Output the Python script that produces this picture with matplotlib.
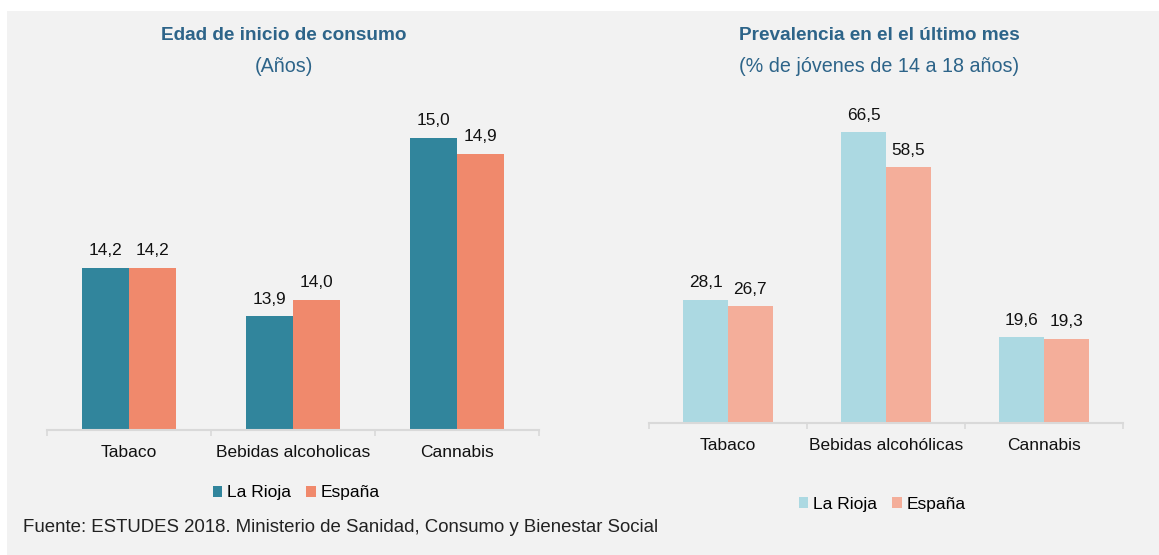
import matplotlib.pyplot as plt
from matplotlib.patches import Rectangle, Patch
import numpy as np

plt.rcParams['font.family'] = ['Liberation Sans', 'DejaVu Sans']

# datos
cat_edad = ["Tabaco", "Bebidas alcoholicas", "Cannabis"]
edad_rioja = [14.2, 13.9, 15.0]
edad_espana = [14.2, 14.0, 14.9]

cat_prev = ["Tabaco", "Bebidas alcohólicas", "Cannabis"]
prev_rioja = [28.1, 66.5, 19.6]
prev_espana = [26.7, 58.5, 19.3]

series = ["La Rioja", "España"]

W, H = 1159, 555
fig = plt.figure(figsize=(W / 100, H / 100), dpi=100, facecolor='white')
fig.patches.append(Rectangle((7 / W, 0), 1, (H - 11) / H, transform=fig.transFigure,
                             facecolor='#f2f2f2', edgecolor='none', zorder=-10))

def fx(px):
    return px / W

def fy(py):
    return 1 - py / H

title_col = '#2d6489'
axis_col = '#d9d9d9'


def dibujar(ax, cats, v1, v2, c1, c2, ylim):
    x = np.arange(len(cats))
    w = 0.284
    b1 = ax.bar(x - w / 2, v1, w, color=c1, edgecolor='none')
    b2 = ax.bar(x + w / 2, v2, w, color=c2, edgecolor='none')
    for b, v in ((b1, v1), (b2, v2)):
        ax.bar_label(b, labels=[f"{val:.1f}".replace('.', ',') for val in v],
                     padding=7, fontsize=12.4, color='#111111')
    ax.set_xlim(-0.5, len(cats) - 0.5)
    ax.set_ylim(*ylim)
    ax.set_facecolor('none')
    for s in ['top', 'right', 'left']:
        ax.spines[s].set_visible(False)
    ax.spines['bottom'].set_color(axis_col)
    ax.spines['bottom'].set_linewidth(1.5)
    ax.set_yticks([])
    ax.set_xticks(x)
    ax.set_xticklabels(cats, fontsize=12.5, color='#111111')
    ax.tick_params(axis='x', which='major', length=0, pad=11)
    ax.set_xticks(np.arange(len(cats) + 1) - 0.5, minor=True)
    ax.tick_params(axis='x', which='minor', length=4, width=1.2, color=axis_col)


# izquierda
ax1 = fig.add_axes([fx(47), fy(430), fx(539) - fx(47), fy(100) - fy(430)])
dibujar(ax1, cat_edad, edad_rioja, edad_espana, '#31859c', '#f0896c', (13.2, 15.233))

# derecha
ax2 = fig.add_axes([fx(649), fy(423), fx(1123) - fx(649), fy(100) - fy(423)])
dibujar(ax2, cat_prev, prev_rioja, prev_espana, '#acd9e2', '#f4ae9a', (0, 73.9))

# titulos
fig.text(fx(284), fy(35), "Edad de inicio de consumo", ha='center', va='center',
         fontsize=13.7, fontweight='bold', color=title_col)
fig.text(fx(284), fy(66), "(Años)", ha='center', va='center', fontsize=14.2, color=title_col)
fig.text(fx(879), fy(35), "Prevalencia en el el último mes", ha='center', va='center',
         fontsize=13.7, fontweight='bold', color=title_col)
fig.text(fx(879), fy(66), "(% de jóvenes de 14 a 18 años)", ha='center', va='center',
         fontsize=14.2, color=title_col)

# leyendas
def leyenda(cx, cy, c1, c2):
    handles = [Patch(facecolor=c1, edgecolor='none'), Patch(facecolor=c2, edgecolor='none')]
    fig.legend(handles, series, loc='center', bbox_to_anchor=(fx(cx), fy(cy)), ncol=2,
               frameon=False, fontsize=12.5, handlelength=0.55, handleheight=0.55,
               handletextpad=0.25, columnspacing=0.9, borderaxespad=0, borderpad=0)

leyenda(296, 493, '#31859c', '#f0896c')
leyenda(882, 504, '#acd9e2', '#f4ae9a')

fig.text(fx(23), fy(528), "Fuente: ESTUDES 2018. Ministerio de Sanidad, Consumo y Bienestar Social",
         ha='left', va='center', fontsize=13.4, color='#222222')

fig.savefig("out.png", dpi=100, facecolor=fig.get_facecolor())
